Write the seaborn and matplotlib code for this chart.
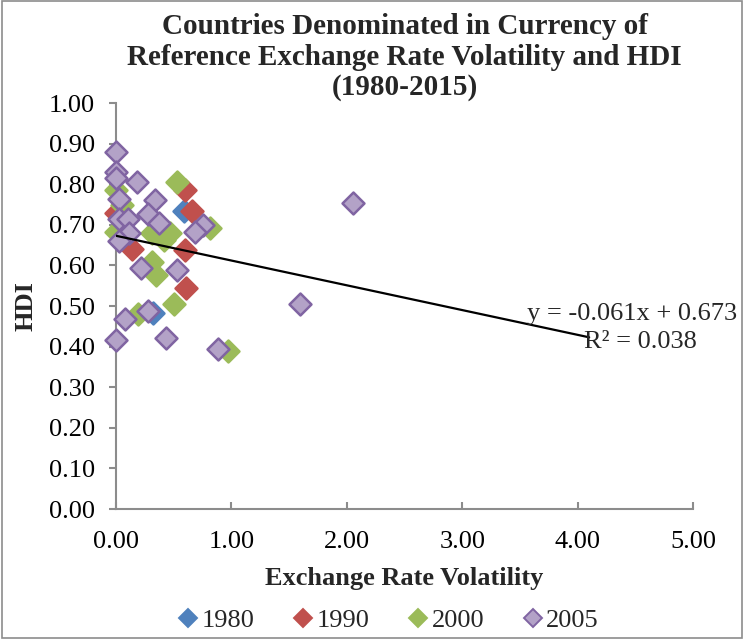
import matplotlib
matplotlib.use("Agg")
import matplotlib.pyplot as plt
import seaborn as sns
import pandas as pd
from matplotlib.lines import Line2D
from matplotlib.patches import Rectangle

# ---- data ----
x_1980 = [0.59, 0.32]
y_1980 = [0.734, 0.483]

x_1990 = [0.60, 0.00, 0.66, 0.14, 0.60, 0.61]
y_1990 = [0.786, 0.730, 0.734, 0.640, 0.638, 0.544]

x_2000 = [0.53, 0.00, 0.05, 0.00, 0.31, 0.47, 0.42, 0.81, 0.31, 0.35, 0.50, 0.19, 0.97]
y_2000 = [0.805, 0.786, 0.750, 0.682, 0.680, 0.680, 0.663, 0.692, 0.608, 0.577, 0.505, 0.480, 0.389]

x_2005 = [0.00, 0.00, 0.00, 0.18, 0.03, 0.34, 0.28, 0.03, 0.10, 0.37, 0.75, 0.68,
          0.11, 0.03, 0.22, 0.53, 1.59, 0.28, 0.08, 0.00, 0.43, 0.88, 2.05]
y_2005 = [0.879, 0.830, 0.815, 0.805, 0.764, 0.761, 0.727, 0.714, 0.714, 0.704, 0.700, 0.683,
          0.680, 0.660, 0.594, 0.589, 0.505, 0.488, 0.468, 0.416, 0.421, 0.394, 0.754]

years = ["1980", "1990", "2000", "2005"]
trend_slope = -0.061
trend_intercept = 0.673
trend_x = [0.0, 4.1]

x_ticks = [0, 1, 2, 3, 4, 5]
y_ticks = [0.0, 0.1, 0.2, 0.3, 0.4, 0.5, 0.6, 0.7, 0.8, 0.9, 1.0]

face_colors = {"1980": "#4F81BD", "1990": "#C0504D", "2000": "#9BBB59", "2005": "#B3A2C7"}
edge_colors = {"1980": "#4F81BD", "1990": "#C0504D", "2000": "#9BBB59", "2005": "#8064A2"}

frames = []
for yr, xs, ys in zip(years, [x_1980, x_1990, x_2000, x_2005], [y_1980, y_1990, y_2000, y_2005]):
    frames.append(pd.DataFrame({"vol": xs, "hdi": ys, "year": yr}))
df = pd.concat(frames, ignore_index=True)

sns.set_theme(style="white")
plt.rcParams["font.family"] = ["Liberation Serif", "DejaVu Serif"]

fig = plt.figure(figsize=(7.51, 6.39), dpi=100)
ax = fig.add_axes([0.1545, 0.2034, 0.7683, 0.6354])

for yr in years:
    sub = df[df["year"] == yr]
    sns.scatterplot(data=sub, x="vol", y="hdi", ax=ax, marker="D", s=125,
                    color=face_colors[yr], edgecolor=edge_colors[yr],
                    linewidth=1.8, legend=False, zorder=3, clip_on=False)

tdf = pd.DataFrame({"x": trend_x, "y": [trend_intercept + trend_slope * v for v in trend_x]})
sns.lineplot(data=tdf, x="x", y="y", ax=ax, color="black", linewidth=1.6, zorder=4)

ax.set_xlim(0, 5)
ax.set_ylim(0, 1.0)
ax.set_xticks(x_ticks)
ax.set_xticklabels([f"{v:.2f}" for v in x_ticks])
ax.set_yticks(y_ticks)
ax.set_yticklabels([f"{v:.2f}" for v in y_ticks])
ax.tick_params(axis="both", labelsize=19, colors="black")
ax.tick_params(axis="y", direction="out", length=5, width=1.5, color="#8C8C8C", left=True, pad=10)
ax.tick_params(axis="x", direction="in", length=5, width=1.5, color="#8C8C8C", bottom=True, pad=16)
for sp in ["top", "right"]:
    ax.spines[sp].set_visible(False)
for sp in ["left", "bottom"]:
    ax.spines[sp].set_color("#8C8C8C")
    ax.spines[sp].set_linewidth(1.5)
ax.grid(False)

ax.set_xlabel("Exchange Rate Volatility", fontsize=19, fontweight="bold", labelpad=10)
ax.set_ylabel("HDI", fontsize=19, fontweight="bold", labelpad=8)
ax.set_title("Countries Denominated in Currency of\nReference Exchange Rate Volatility and HDI\n(1980-2015)",
             fontsize=21, fontweight="bold", linespacing=1.15, pad=6)

fig.text(737 / 751, 1 - 314 / 639, "y = -0.061x + 0.673", ha="right", va="center", fontsize=19)
fig.text(640 / 751, 1 - 342 / 639, "R² = 0.038", ha="center", va="center", fontsize=19)

handles = [Line2D([0], [0], marker="D", linestyle="none", markersize=9,
                  markerfacecolor=face_colors[yr], markeredgecolor=edge_colors[yr],
                  markeredgewidth=1.4, label=yr) for yr in years]
fig.legend(handles=handles, loc="center", bbox_to_anchor=(387 / 751, 1 - 620 / 639), ncol=4,
           frameon=False, fontsize=19, handletextpad=0.0, columnspacing=1.35, handlelength=1.0)

fig.patches.append(Rectangle((0.002, 0.002), 0.986, 0.996, transform=fig.transFigure,
                             fill=False, edgecolor="#8C8C8C", linewidth=1.2))

fig.savefig("out.png", dpi=100)
